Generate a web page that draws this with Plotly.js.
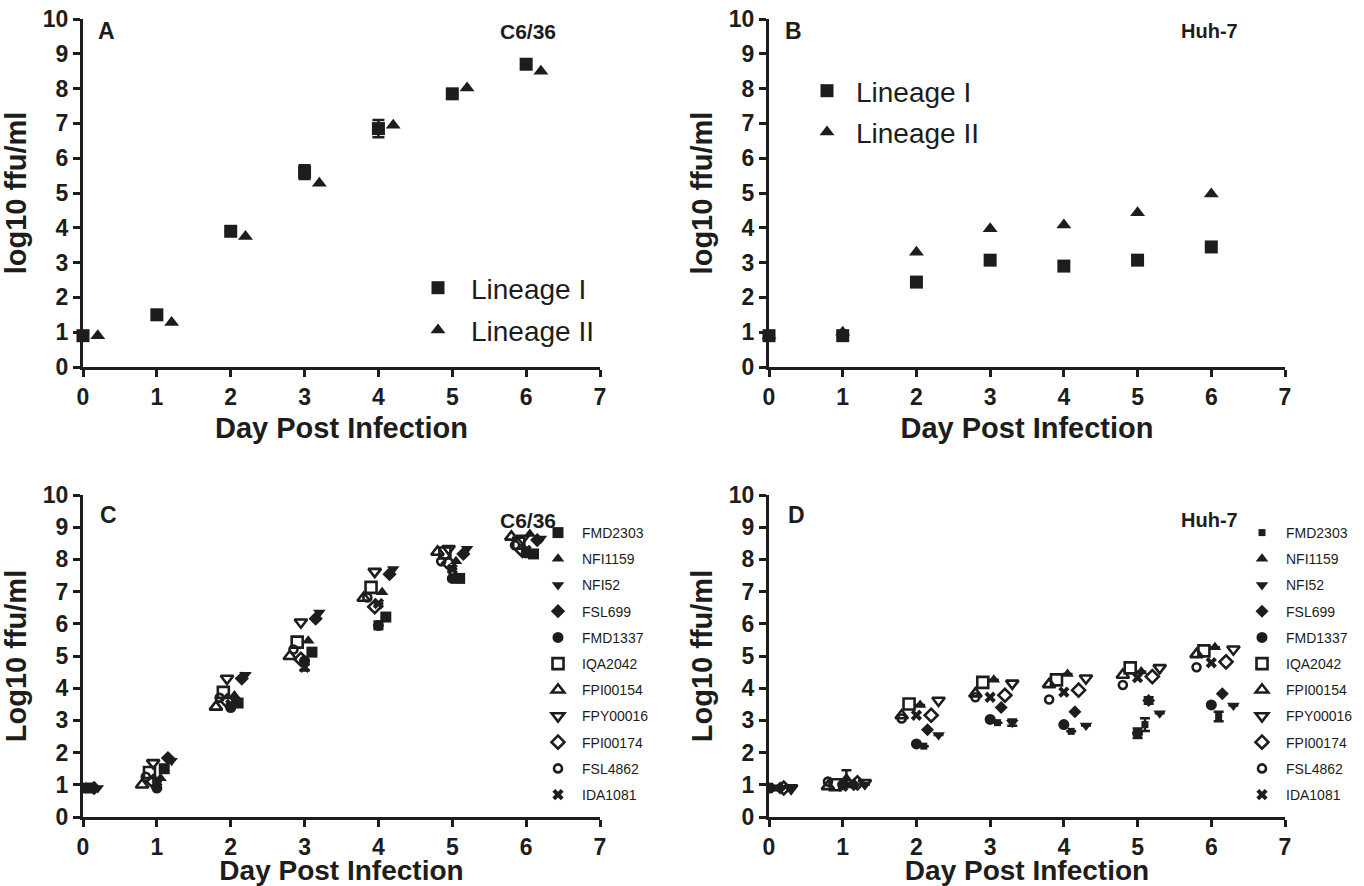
<!DOCTYPE html>
<html>
<head>
<meta charset="utf-8">
<script src="https://cdn.plot.ly/plotly-3.0.1.min.js"></script>
<style>html,body{margin:0;padding:0;background:#fff;}#chart{width:1364px;height:886px;}</style>
</head>
<body>
<div id="chart"></div>
<script>
// ---------- data ----------
const days = [0, 1, 2, 3, 4, 5, 6];

// Panel A (C6/36) lineage means
const aLineage1 = [0.9, 1.5, 3.9, 5.6, 6.85, 7.85, 8.7];
const aLineage1Err = [0, 0, 0, 0.2, 0.25, 0, 0];
const aLineage2 = [0.9, 1.28, 3.75, 5.28, 6.95, 8.02, 8.5];
// Panel B (Huh-7) lineage means
const bLineage1 = [0.9, 0.9, 2.44, 3.07, 2.9, 3.07, 3.45];
const bLineage2 = [0.9, 1.0, 3.3, 3.97, 4.08, 4.43, 4.97];

const strains = ["FMD2303", "NFI1159", "NFI52", "FSL699", "FMD1337", "IQA2042",
                 "FPI00154", "FPY00016", "FPI00174", "FSL4862", "IDA1081"];

// Panel C (C6/36) per strain
const cFMD2303  = [0.9, 1.5, 3.54, 5.12, 6.21, 7.41, 8.17];
const cNFI1159  = [0.9, 1.2, 3.77, 5.47, 6.98, 7.94, 8.79];
const cNFI52    = [0.9, 1.75, 4.42, 6.35, 7.7, 8.33, 8.65];
const cFSL699   = [0.9, 1.83, 4.3, 6.16, 7.54, 8.17, 8.6];
const cFMD1337  = [0.9, 0.9, 3.4, 4.85, 5.95, 7.41, 8.2];
const cIQA2042  = [0.9, 1.38, 3.87, 5.43, 7.13, 8.2, 8.5];
const cFPI00154 = [0.9, 1.0, 3.42, 4.99, 6.8, 8.23, 8.7];
const cFPY00016 = [0.9, 1.68, 4.3, 6.05, 7.62, 8.33, 8.65];
const cFPI00174 = [0.9, 1.1, 3.6, 4.9, 6.53, 7.88, 8.28];
const cFSL4862  = [0.9, 1.25, 3.7, 5.2, 6.82, 7.94, 8.44];
const cIDA1081  = [0.9, 1.1, 3.5, 4.65, 6.63, 7.7, 8.28];
const cFMD1337Err = [0, 0, 0, 0, 0.12, 0, 0];
const cIDA1081Err = [0, 0, 0, 0.1, 0, 0, 0];

// Panel D (Huh-7) per strain
const dFMD2303  = [0.9, 1.0, 2.2, 2.93, 2.66, 2.87, 3.12];
const dNFI1159  = [0.9, 1.2, 3.48, 4.26, 4.44, 4.52, 5.27];
const dNFI52    = [0.9, 1.0, 2.55, 2.93, 2.84, 3.22, 3.46];
const dFSL699   = [0.9, 1.0, 2.71, 3.4, 3.27, 3.62, 3.83];
const dFMD1337  = [0.9, 1.0, 2.27, 3.03, 2.87, 2.6, 3.48];
const dIQA2042  = [0.9, 1.0, 3.51, 4.18, 4.26, 4.63, 5.16];
const dFPI00154 = [0.9, 0.95, 3.15, 3.83, 4.12, 4.41, 5.05];
const dFPY00016 = [0.9, 1.06, 3.62, 4.15, 4.31, 4.63, 5.21];
const dFPI00174 = [0.9, 1.06, 3.16, 3.78, 3.94, 4.36, 4.82];
const dFSL4862  = [0.9, 1.1, 3.06, 3.72, 3.65, 4.1, 4.65];
const dIDA1081  = [0.9, 0.95, 3.16, 3.72, 3.88, 4.33, 4.79];
const dNFI1159Err = [0, 0.25, 0, 0, 0, 0, 0];
const dNFI52Err   = [0, 0, 0, 0.1, 0, 0, 0];
const dFSL699Err  = [0, 0, 0, 0, 0, 0.1, 0];
const dFMD2303Err = [0, 0, 0, 0, 0, 0.2, 0.15];
const dFMD1337Err = [0, 0, 0, 0, 0, 0.15, 0];

const cValues = [cFMD2303, cNFI1159, cNFI52, cFSL699, cFMD1337, cIQA2042, cFPI00154, cFPY00016, cFPI00174, cFSL4862, cIDA1081];
const dValues = [dFMD2303, dNFI1159, dNFI52, dFSL699, dFMD1337, dIQA2042, dFPI00154, dFPY00016, dFPI00174, dFSL4862, dIDA1081];
const cErrors = [null, null, null, null, cFMD1337Err, null, null, null, null, null, cIDA1081Err];
const dErrors = [dFMD2303Err, dNFI1159Err, dNFI52Err, dFSL699Err, dFMD1337Err, null, null, null, null, null, null];

// ---------- styling (horizontal jitter as GraphPad draws it) ----------
const cJitter = [0.1, 0.05, 0.2, 0.15, 0, -0.1, -0.2, -0.05, -0.05, -0.15, 0];
const dJitter = [0.1, 0.05, 0.3, 0.15, 0, -0.1, -0.2, 0.3, 0.2, -0.2, 0];
const symbols = ["square", "triangle-up", "triangle-down", "diamond", "circle", "square-open",
                 "triangle-up-open", "triangle-down-open", "diamond-open", "circle-open", "x"];
const cSizes = [11, 11, 11, 11, 11, 11, 11, 11, 10, 8, 10];
const dSizes = [7, 11, 11, 10, 11, 11, 11, 11, 10, 8, 10];
const INK = "#1d1d1b";
const FONT = "Liberation Sans, Arial, sans-serif";

const W = 1364, H = 886;
const px = v => v / W, py = v => 1 - v / H;

function errObj(arr, w) {
  if (!arr) return {visible: false};
  return {type: "data", array: arr, visible: true, color: INK, thickness: 2.5, width: w};
}

const traces = [];
// Panel A
traces.push({x: days, y: aLineage1, type: "scatter", mode: "markers", name: "Lineage I",
  xaxis: "x", yaxis: "y", legend: "legend", legendgroup: "a1", legendrank: 1, cliponaxis: false,
  marker: {symbol: "square", size: 13, color: INK}, error_y: errObj(aLineage1Err, 6)});
traces.push({x: days.map(d => d + 0.2), y: aLineage2, type: "scatter", mode: "markers", name: "Lineage II",
  xaxis: "x", yaxis: "y", legend: "legend", legendgroup: "a2", legendrank: 2, cliponaxis: false,
  marker: {symbol: "triangle-up", size: 13, color: INK}});
// Panel B (triangles drawn first so squares sit on top, legend order via legendrank)
traces.push({x: days, y: bLineage2, type: "scatter", mode: "markers", name: "Lineage II",
  xaxis: "x2", yaxis: "y2", legend: "legend2", legendgroup: "b2", legendrank: 2, cliponaxis: false,
  marker: {symbol: "triangle-up", size: 13, color: INK}});
traces.push({x: days, y: bLineage1, type: "scatter", mode: "markers", name: "Lineage I",
  xaxis: "x2", yaxis: "y2", legend: "legend2", legendgroup: "b1", legendrank: 1, cliponaxis: false,
  marker: {symbol: "square", size: 13, color: INK}});

function strainTraces(values, errors, jitter, sizes, xa, ya, leg) {
  strains.forEach((s, i) => {
    const open = symbols[i].indexOf("open") >= 0;
    traces.push({
      x: days.map(d => d + jitter[i]), y: values[i], type: "scatter", mode: "markers", name: s,
      xaxis: xa, yaxis: ya, legend: leg, legendgroup: leg + s, legendrank: i + 1, cliponaxis: true,
      marker: {symbol: symbols[i], size: sizes[i], color: INK,
               line: {color: INK, width: open ? 2.6 : 0}},
      error_y: errObj(errors[i], 5)
    });
  });
}
strainTraces(cValues, cErrors, cJitter, cSizes, "x3", "y3", "legend3");
strainTraces(dValues, dErrors, dJitter, dSizes, "x4", "y4", "legend4");

// ---------- layout ----------
const xDomL = [px(83), px(600)], xDomR = [px(769), px(1285)];
const yDomT = [py(367), py(19)], yDomB = [py(817), py(495)];

function xAxis(dom, anchor, standoff, tsize) {
  return {domain: dom, anchor: anchor, range: [0, 7], dtick: 1, tick0: 0,
    showgrid: false, zeroline: false, showline: true, linewidth: 3, linecolor: INK,
    ticks: "outside", ticklen: 7, tickwidth: 3, tickcolor: INK,
    tickfont: {family: FONT, size: 23, color: INK, weight: "bold"},
    title: {text: "Day Post Infection", standoff: standoff, font: {family: FONT, size: tsize, color: INK, weight: "bold"}},
    fixedrange: true, automargin: false};
}
function yAxis(dom, anchor, t) {
  return {domain: dom, anchor: anchor, range: [0, 10], dtick: 1, tick0: 0,
    showgrid: false, zeroline: false, showline: true, linewidth: 3, linecolor: INK,
    ticks: "outside", ticklen: 7, tickwidth: 3, tickcolor: INK,
    tickfont: {family: FONT, size: 23, color: INK, weight: "bold"},
    title: {text: t, standoff: 8, font: {family: FONT, size: 29, color: INK, weight: "bold"}},
    fixedrange: true, automargin: false};
}
function legendBox(x, y, size, gap, iw) {
  return {x: x, y: y, xanchor: "left", yanchor: "top", bgcolor: "rgba(0,0,0,0)",
    borderwidth: 0, font: {family: FONT, size: size, color: INK}, itemwidth: iw,
    traceorder: "grouped", tracegroupgap: gap, itemclick: false, itemdoubleclick: false};
}
function ann(text, x, y, size) {
  return {text: text, x: px(x), y: py(y), xref: "paper", yref: "paper", showarrow: false,
    xanchor: "center", yanchor: "middle", font: {family: FONT, size: size, color: INK, weight: "bold"}};
}

const layout = {
  width: W, height: H, margin: {l: 0, r: 0, t: 0, b: 0},
  paper_bgcolor: "#ffffff", plot_bgcolor: "#ffffff", showlegend: true,
  xaxis: xAxis(xDomL, "y", 10, 29), yaxis: yAxis(yDomT, "x", "log10 ffu/ml"),
  xaxis2: xAxis(xDomR, "y2", 10, 29), yaxis2: yAxis(yDomT, "x2", "log10 ffu/ml"),
  xaxis3: xAxis(xDomL, "y3", 15, 28), yaxis3: yAxis(yDomB, "x3", "Log10 ffu/ml"),
  xaxis4: xAxis(xDomR, "y4", 15, 28), yaxis4: yAxis(yDomB, "x4", "Log10 ffu/ml"),
  legend: legendBox(px(405), py(263), 28, 3, 56),
  legend2: legendBox(px(798), py(66), 28, 2, 48),
  legend3: legendBox(px(534), py(517), 14, 5, 38),
  legend4: legendBox(px(1238), py(517), 14, 5, 38),
  annotations: [
    ann("A", 106, 31, 23), ann("C6/36", 528, 31, 21),
    ann("B", 793, 31, 23), ann("Huh-7", 1209, 31, 20),
    ann("C", 108, 515, 23), ann("C6/36", 528, 520, 21),
    ann("D", 796, 515, 23), ann("Huh-7", 1209, 520, 20)
  ]
};

Plotly.newPlot("chart", traces, layout, {displayModeBar: false, staticPlot: true});
</script>
</body>
</html>
